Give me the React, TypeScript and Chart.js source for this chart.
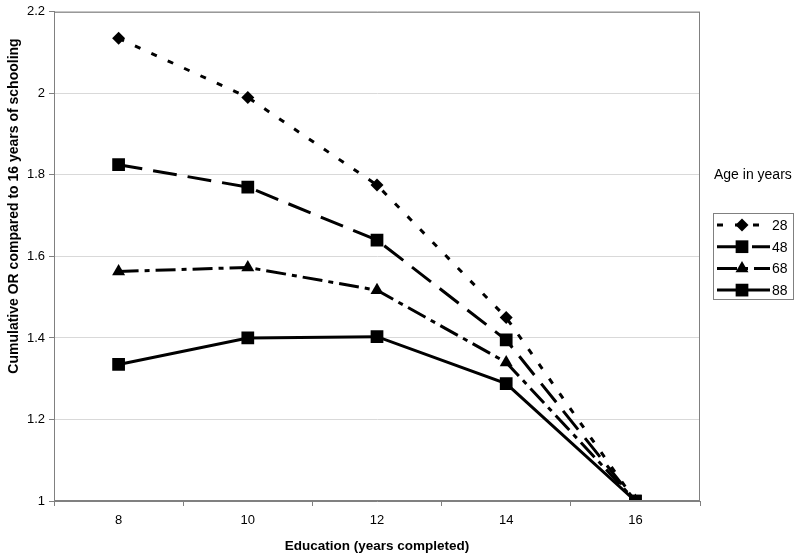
import React, { useEffect, useRef } from "react";
import { Chart, registerables } from "chart.js";
Chart.register(...registerables);

const categories = ["8", "10", "12", "14", "16"];
const age28 = [2.135, 1.99, 1.775, 1.45, 1.0];
const age48 = [1.825, 1.77, 1.64, 1.395, 1.0];
const age68 = [1.563, 1.573, 1.517, 1.34, 1.0];
const age88 = [1.335, 1.4, 1.403, 1.288, 1.0];
const seriesNames = ["28", "48", "68", "88"];
const yTitle = "Cumulative OR compared to 16 years of schooling";
const xTitle = "Education (years completed)";
const legendTitle = "Age in years";

const FONT = "'Liberation Sans', Arial, sans-serif";

function drawMarker(ctx: CanvasRenderingContext2D, style: string, r: number, x: number, y: number) {
  ctx.beginPath();
  if (style === "rectRot") {
    ctx.moveTo(x, y - r);
    ctx.lineTo(x + r, y);
    ctx.lineTo(x, y + r);
    ctx.lineTo(x - r, y);
  } else if (style === "triangle") {
    ctx.moveTo(x, y - r);
    ctx.lineTo(x + r * 0.866, y + r * 0.5);
    ctx.lineTo(x - r * 0.866, y + r * 0.5);
  } else {
    const s = r * Math.SQRT1_2;
    ctx.rect(x - s, y - s, 2 * s, 2 * s);
  }
  ctx.closePath();
  ctx.fill();
}

const legendPlugin = {
  id: "customLegend",
  afterDraw(chart: any) {
    const ctx = chart.ctx;
    const { left, top, right, bottom } = chart.chartArea;
    ctx.save();
    ctx.strokeStyle = "#808080";
    ctx.lineWidth = 1;
    ctx.setLineDash([]);
    ctx.strokeRect(left + 0.5, top + 0.5, right - left - 1, bottom - top - 1);

    // y axis title
    ctx.save();
    ctx.translate(14, 206);
    ctx.rotate(-Math.PI / 2);
    ctx.fillStyle = "#000";
    ctx.font = `bold 14px ${FONT}`;
    ctx.textAlign = "center";
    ctx.textBaseline = "middle";
    ctx.fillText(yTitle, 0, 0);
    ctx.restore();

    ctx.fillStyle = "#000";
    ctx.font = `14px ${FONT}`;
    ctx.textBaseline = "middle";
    ctx.textAlign = "left";
    ctx.fillText(legendTitle, 714, 175);

    ctx.strokeStyle = "#808080";
    ctx.lineWidth = 1;
    ctx.strokeRect(713.5, 213.5, 80, 86);

    chart.data.datasets.forEach((ds: any, i: number) => {
      const y = 225 + i * 21.7;
      ctx.strokeStyle = "#000";
      ctx.lineWidth = 3;
      ctx.setLineDash(ds.borderDash || []);
      ctx.beginPath();
      ctx.moveTo(717, y);
      ctx.lineTo(770, y);
      ctx.stroke();
      ctx.setLineDash([]);
      ctx.fillStyle = "#000";
      drawMarker(ctx, ds.pointStyle, ds.pointRadius, 742, y);
      ctx.fillStyle = "#000";
      ctx.font = `14px ${FONT}`;
      ctx.fillText(ds.label, 772, y + 1);
    });
    ctx.restore();
  },
};

export default function App() {
  const ref = useRef<HTMLCanvasElement>(null);
  useEffect(() => {
    const mk = (label: string, data: number[], style: string, r: number, dash: number[]) => ({
      label,
      data,
      borderColor: "#000",
      backgroundColor: "#000",
      borderWidth: 3,
      borderDash: dash,
      pointStyle: style,
      pointRadius: r,
      pointBorderWidth: 0,
      pointBackgroundColor: "#000",
      tension: 0,
    });
    const chart = new Chart(ref.current!, {
      type: "line",
      data: {
        labels: categories,
        datasets: [
          mk(seriesNames[0], age28, "rectRot", 6.5, [6, 12]),
          mk(seriesNames[1], age48, "rect", 9, [24, 11]),
          mk(seriesNames[2], age68, "triangle", 7.5, [20, 6, 5, 6]),
          mk(seriesNames[3], age88, "rect", 9, []),
        ],
      },
      options: {
        responsive: false,
        animation: false,
        layout: { padding: { top: 11, right: 100, left: 0, bottom: 0 } },
        plugins: { legend: { display: false }, tooltip: { enabled: false } },
        scales: {
          x: {
            offset: true,
            grid: { offset: true, drawOnChartArea: false, color: "#808080", tickLength: 5 },
            border: { color: "#808080" },
            ticks: { color: "#000", font: { family: FONT, size: 13 }, padding: 7, maxRotation: 0 },
            title: {
              display: true,
              text: xTitle,
              color: "#000",
              font: { family: FONT, size: 13.5, weight: "bold" },
              padding: { top: 4, bottom: 4 },
            },
            afterFit: (s: any) => { s.height = 57; },
          },
          y: {
            min: 1,
            max: 2.2,
            ticks: {
              stepSize: 0.2,
              color: "#000",
              font: { family: FONT, size: 13 },
              padding: 4,
              callback: (v: any) => String(Math.round(Number(v) * 10) / 10),
            },
            grid: { color: "#d9d9d9", tickColor: "#808080", tickLength: 5 },
            border: { color: "#808080" },
            afterFit: (s: any) => { s.width = 54; },
          },
        },
      },
      plugins: [legendPlugin],
    } as any);
    return () => chart.destroy();
  }, []);
  return (
    <div style={{ position: "absolute", left: 0, top: 0, width: 800, height: 558, background: "#fff" }}>
      <canvas ref={ref} width={800} height={558} />
    </div>
  );
}
